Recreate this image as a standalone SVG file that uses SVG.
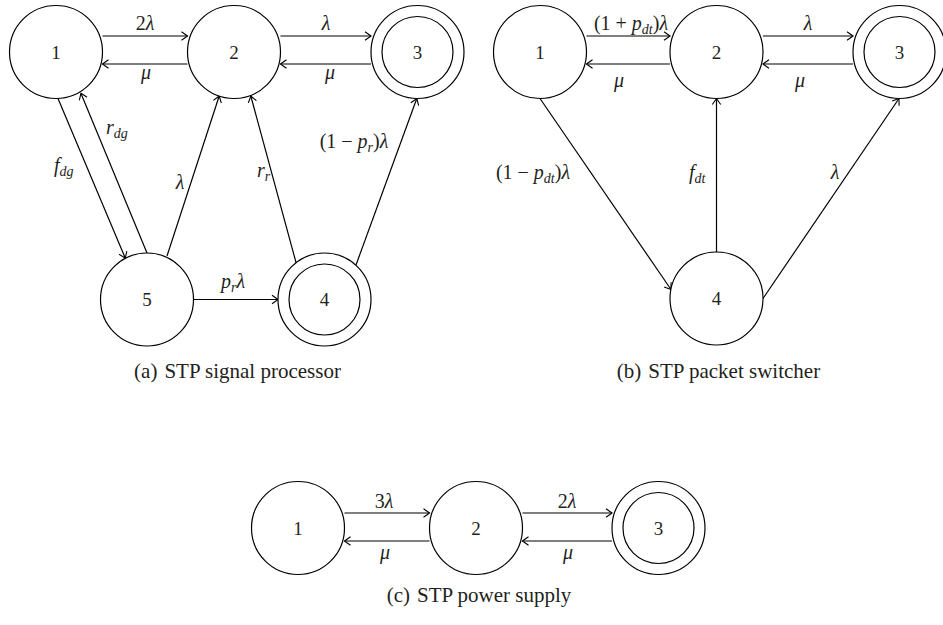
<svg xmlns="http://www.w3.org/2000/svg" width="943" height="625" viewBox="0 0 943 625">
<style>
  .n { fill: #fff; stroke: #000; stroke-width: 1.2; }
  .e { fill: none; stroke: #000; stroke-width: 1.2; marker-end: url(#arr); }
  text { font-family: "Liberation Serif", "Times New Roman", serif; fill: #231f20; }
  .d { font-size: 19px; text-anchor: middle; }
  .l { font-size: 20px; }
  .m { text-anchor: middle; }
  .i { font-style: italic; }
  .s { font-size: 14px; font-style: italic; }
  .cap { font-size: 21px; text-anchor: middle; }
</style>
<defs>
  <marker id="arr" markerUnits="userSpaceOnUse" viewBox="-8 -6 10 12" refX="0" refY="0" markerWidth="10" markerHeight="12" orient="auto">
    <path d="M-6,-4.2 Q-1.8,-1.2 0,0 Q-1.8,1.2 -6,4.2" fill="none" stroke="#000" stroke-width="1.1"/>
  </marker>
</defs>

<g id="connectors">
  <!-- (a) -->
  <path class="e" d="M102.5,36 H187.5"/>
  <path class="e" d="M187.5,64 H102.5"/>
  <path class="e" d="M280.5,36 H371"/>
  <path class="e" d="M371,64 H280.5"/>
  <path class="e" d="M58,98.5 L125.3,258.2"/>
  <path class="e" d="M147,253 L80.9,93.3"/>
  <path class="e" d="M167,256 L219.2,96"/>
  <path class="e" d="M296,262.5 L250.8,96"/>
  <path class="e" d="M356,265 L416.8,98.5"/>
  <path class="e" d="M193.5,299.5 H278"/>
  <!-- (b) -->
  <path class="e" d="M586.5,36 H670"/>
  <path class="e" d="M670,64 H586.5"/>
  <path class="e" d="M763,36 H853"/>
  <path class="e" d="M853,64 H763"/>
  <path class="e" d="M540,98.5 L671,289.5"/>
  <path class="e" d="M716.5,252 V98.5"/>
  <path class="e" d="M763,298.5 L899,98.5"/>
  <!-- (c) -->
  <path class="e" d="M344.5,513 H429.5"/>
  <path class="e" d="M429.5,541 H344.5"/>
  <path class="e" d="M522.5,513 H612"/>
  <path class="e" d="M612,541 H522.5"/>
</g>

<g id="a-labels">
  <text class="l m" x="145" y="29.5">2<tspan class="i">λ</tspan></text>
  <text class="l m i" x="146" y="79">μ</text>
  <text class="l m i" x="326" y="29.5">λ</text>
  <text class="l m i" x="330" y="79">μ</text>
  <text class="l" x="54" y="172"><tspan class="i">f</tspan><tspan class="s" dy="4">dg</tspan></text>
  <text class="l" x="106" y="134"><tspan class="i">r</tspan><tspan class="s" dy="4">dg</tspan></text>
  <text class="l m i" x="180" y="189">λ</text>
  <text class="l" x="257" y="177"><tspan class="i">r</tspan><tspan class="s" dy="4">r</tspan></text>
  <text class="l m" x="354" y="148">(1 − <tspan class="i">p</tspan><tspan class="s" dy="4">r</tspan><tspan dy="-4">)</tspan><tspan class="i">λ</tspan></text>
  <text class="l m" x="233" y="288"><tspan class="i">p</tspan><tspan class="s" dy="4">r</tspan><tspan class="i" dy="-4">λ</tspan></text>
  <text class="cap" x="237.5" y="378">(a)<tspan dx="7">STP signal processor</tspan></text>
</g>
<g id="b-labels">
  <text class="l m" x="631" y="30">(1 + <tspan class="i">p</tspan><tspan class="s" dy="4">dt</tspan><tspan dy="-4">)</tspan><tspan class="i">λ</tspan></text>
  <text class="l m i" x="619" y="87">μ</text>
  <text class="l m i" x="808" y="29.5">λ</text>
  <text class="l m i" x="800" y="87">μ</text>
  <text class="l m" x="533" y="179">(1 − <tspan class="i">p</tspan><tspan class="s" dy="4">dt</tspan><tspan dy="-4">)</tspan><tspan class="i">λ</tspan></text>
  <text class="l" x="689" y="179"><tspan class="i">f</tspan><tspan class="s" dy="4">dt</tspan></text>
  <text class="l m i" x="835" y="179">λ</text>
  <text class="cap" x="718.5" y="378">(b)<tspan dx="7">STP packet switcher</tspan></text>
</g>
<g id="c-labels">
  <text class="l m" x="384" y="508">3<tspan class="i">λ</tspan></text>
  <text class="l m i" x="385" y="559">μ</text>
  <text class="l m" x="567" y="508">2<tspan class="i">λ</tspan></text>
  <text class="l m i" x="568" y="559">μ</text>
  <text class="cap" x="479" y="602">(c)<tspan dx="7">STP power supply</tspan></text>
</g>

<g id="a1"><circle class="n" cx="56" cy="52" r="46.5"/><text class="d" x="56" y="58.5">1</text></g>
<g id="a2"><circle class="n" cx="234" cy="52" r="46.5"/><text class="d" x="234" y="58.5">2</text></g>
<g id="a3"><circle class="n" cx="417.5" cy="52" r="46.5"/><circle class="n" cx="417.5" cy="52" r="35.5"/><text class="d" x="417.5" y="58.5">3</text></g>
<g id="a5"><circle class="n" cx="147" cy="299.5" r="46.5"/><text class="d" x="147" y="306">5</text></g>
<g id="a4"><circle class="n" cx="324.5" cy="299.5" r="46.5"/><circle class="n" cx="324.5" cy="299.5" r="35.5"/><text class="d" x="324.5" y="306">4</text></g>

<g id="b1"><circle class="n" cx="540" cy="52" r="46.5"/><text class="d" x="540" y="58.5">1</text></g>
<g id="b2"><circle class="n" cx="716.5" cy="52" r="46.5"/><text class="d" x="716.5" y="58.5">2</text></g>
<g id="b3"><circle class="n" cx="899.5" cy="52" r="46.5"/><circle class="n" cx="899.5" cy="52" r="35.5"/><text class="d" x="899.5" y="58.5">3</text></g>
<g id="b4"><circle class="n" cx="716.5" cy="298.5" r="46.5"/><text class="d" x="716.5" y="305">4</text></g>

<g id="c1"><circle class="n" cx="298" cy="528" r="46.5"/><text class="d" x="298" y="534.5">1</text></g>
<g id="c2"><circle class="n" cx="476" cy="528" r="46.5"/><text class="d" x="476" y="534.5">2</text></g>
<g id="c3"><circle class="n" cx="658.5" cy="528" r="46.5"/><circle class="n" cx="658.5" cy="528" r="35.5"/><text class="d" x="658.5" y="534.5">3</text></g>
</svg>
